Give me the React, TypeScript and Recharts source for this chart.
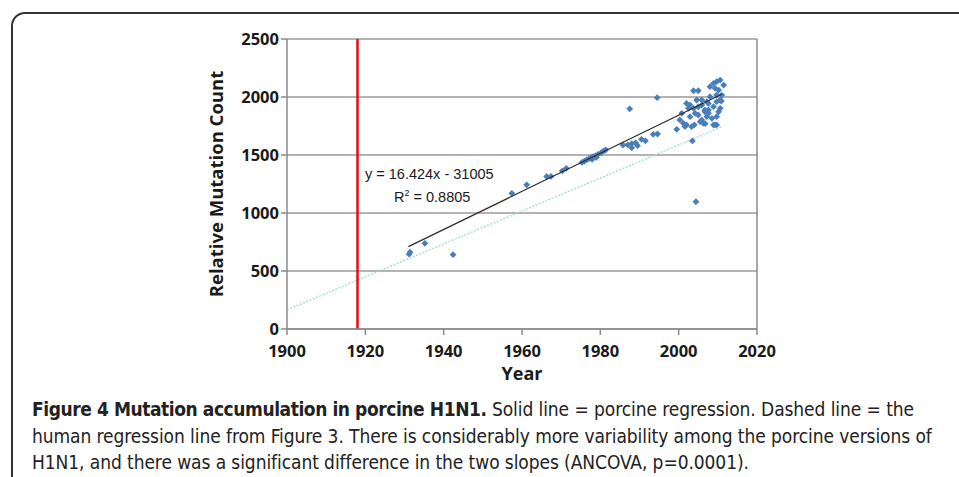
import {
  ScatterChart,
  Scatter,
  XAxis,
  YAxis,
  CartesianGrid,
  ReferenceLine,
} from 'recharts';

// porcine H1N1 isolates: year vs relative mutation count
const years = [
  1931.2, 1931.4, 1935.2, 1942.4, 1957.4, 1961.2, 1966.3, 1967.4, 1970.3, 1971.3,
  1975.3, 1975.9, 1976.5, 1977.1, 1977.6, 1977.9, 1978.2, 1978.8, 1979.0, 1979.4,
  1980.2, 1980.9, 1981.4, 1985.8, 1987.0, 1988.0, 1989.0, 1988.0, 1989.5, 1990.5,
  1991.5, 1993.5, 1994.6, 1987.5, 1994.5, 2004.4, 2003.5,
  2003.8, 2005.0, 2008.9, 2009.7, 2010.6, 2011.5, 2008.0, 2009.3, 2010.2, 2011.0,
  2010.6, 2009.7, 2008.9, 2007.6, 2006.7, 2005.9, 2004.6, 2002.9, 2002.0, 2002.5,
  2003.8, 2004.2, 2000.8, 2001.2, 2000.3, 1999.5, 2002.0, 2003.3, 2005.5, 2006.3,
  2008.9, 2009.7, 2007.2, 2008.5, 2009.7, 2010.2, 2010.6, 2007.6, 2008.0, 2007.2,
  2009.7, 2005.0, 2005.0, 2005.9, 2006.7, 2005.9, 2007.6, 2002.9, 2009.3, 2001.6,
  2004.0, 2006.8, 2010.9,
];
const counts = [
  645, 662, 739, 641, 1170, 1243, 1315, 1315, 1364, 1385,
  1436, 1446, 1458, 1468, 1477, 1462, 1486, 1494, 1480, 1505,
  1520, 1536, 1545, 1586, 1588, 1598, 1605, 1562, 1580, 1635,
  1622, 1678, 1681, 1898, 1994, 1097, 1621,
  2054, 2054, 2118, 2132, 2146, 2103, 2089, 2075, 2060, 2017,
  1974, 1960, 1917, 1888, 1873, 1931, 1974, 1931, 1945, 1902,
  1902, 1859, 1859, 1773, 1802, 1721, 1759, 1744, 1787, 1773,
  1759, 1759, 1830, 1816, 1830, 1873, 1902, 1945, 2003, 1960,
  2017, 1916, 1845, 1802, 1888, 1974, 1859, 1830, 1759, 1745,
  1760, 1770, 1965,
];

// trend lines (end points)
const porcineYears = [1931, 2011];
const porcineCounts = [710, 2024];
const humanYears = [1900, 2011];
const humanCounts = [165, 1742];

const xTicks = [1900, 1920, 1940, 1960, 1980, 2000, 2020];
const yTicks = [0, 500, 1000, 1500, 2000, 2500];
const pandemicYear = 1918;

const points = years.map((y, i) => ({ year: y, count: counts[i] }));

const Diamond = (props: any) => {
  const { cx, cy } = props;
  const r = 3.4;
  return (
    <path
      d={`M${cx} ${cy - r}L${cx + r} ${cy}L${cx} ${cy + r}L${cx - r} ${cy}Z`}
      fill="#4a7ebb"
    />
  );
};

const tickStyle = {
  fontFamily: '"Open Sans", sans-serif',
  fontSize: 16.5,
  fontWeight: 700,
  fill: '#1a1a1a',
};

const captionFont = '"Liberation Sans Narrow", "DejaVu Sans Condensed", sans-serif';

export default function App() {
  return (
    <div
      style={{
        position: 'absolute',
        left: 0,
        top: 0,
        width: 959,
        height: 477,
        overflow: 'hidden',
        background: '#fff',
      }}
    >
      <div
        style={{
          position: 'absolute',
          left: 11,
          top: 12,
          width: 1000,
          height: 520,
          border: '2px solid #333',
          borderRadius: 14,
        }}
      />
      <div style={{ position: 'absolute', left: 0, top: 0 }}>
        <ScatterChart
          width={959}
          height={400}
          margin={{ top: 39, right: 202, bottom: 41, left: 200 }}
        >
          <CartesianGrid
            horizontal
            vertical={false}
            stroke="#9a9a9a"
            strokeWidth={1.5}
          />
          <XAxis
            type="number"
            dataKey="year"
            domain={[1900, 2020]}
            ticks={xTicks}
            height={30}
            tickMargin={10}
            stroke="#8a8a8a"
            strokeWidth={1.5}
            tick={tickStyle}
            label={{
              value: 'Year',
              position: 'bottom',
              offset: 8,
              style: { ...tickStyle, fontSize: 18 },
            }}
          />
          <YAxis
            type="number"
            dataKey="count"
            domain={[0, 2500]}
            ticks={yTicks}
            width={87}
            stroke="#8a8a8a"
            strokeWidth={1.5}
            tick={tickStyle}
            label={{
              value: 'Relative Mutation Count',
              angle: -90,
              position: 'insideLeft',
              offset: 16,
              style: { ...tickStyle, fontSize: 18.5, textAnchor: 'middle' },
            }}
          />
          <ReferenceLine x={2020} stroke="#8a8a8a" strokeWidth={1.5} />
          <ReferenceLine
            segment={[
              { x: humanYears[0], y: humanCounts[0] },
              { x: humanYears[1], y: humanCounts[1] },
            ]}
            stroke="#9fe0bb"
            strokeWidth={1.3}
            strokeDasharray="2 1.5"
          />
          <ReferenceLine x={pandemicYear} stroke="#e3161d" strokeWidth={2.6} />
          <Scatter data={points} shape={Diamond} isAnimationActive={false} />
          <ReferenceLine
            segment={[
              { x: porcineYears[0], y: porcineCounts[0] },
              { x: porcineYears[1], y: porcineCounts[1] },
            ]}
            stroke="#2b2b2b"
            strokeWidth={1.2}
            zIndex={1000}
          />
        </ScatterChart>
      </div>
      <div
        style={{
          position: 'absolute',
          left: 365,
          top: 165,
          fontFamily: '"Liberation Sans", sans-serif',
          fontSize: 14.5,
          color: '#1a1a1a',
          whiteSpace: 'nowrap',
          lineHeight: '19px',
        }}
      >
        <div>y = 16.424x - 31005</div>
        <div style={{ paddingLeft: 29 }}>
          R<sup style={{ fontSize: 9 }}>2</sup> = 0.8805
        </div>
      </div>
      <div
        style={{
          position: 'absolute',
          left: 32,
          top: 396,
          fontFamily: captionFont,
          fontSize: 19,
          letterSpacing: -0.08,
          lineHeight: '26.5px',
          color: '#222',
          whiteSpace: 'nowrap',
        }}
      >
        <div>
          <b style={{ letterSpacing: -0.43 }}>
            Figure 4 Mutation accumulation in porcine H1N1.
          </b>{' '}
          Solid line = porcine regression. Dashed line = the
        </div>
        <div>
          human regression line from Figure 3. There is considerably more variability
          among the porcine versions of
        </div>
        <div>
          H1N1, and there was a significant difference in the two slopes (ANCOVA,
          p=0.0001).
        </div>
      </div>
    </div>
  );
}
